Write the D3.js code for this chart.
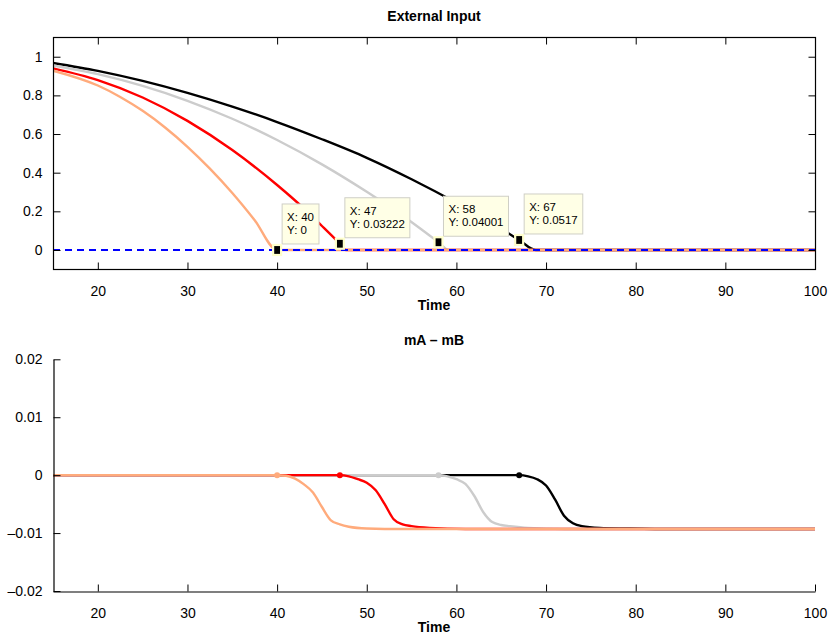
<!DOCTYPE html>
<html>
<head>
<meta charset="utf-8">
<script src="https://cdn.jsdelivr.net/npm/d3@7"></script>
<style>
  html, body { margin: 0; padding: 0; background: #fff; }
  svg { display: block; }
  text { font-family: "Liberation Sans", Arial, Helvetica, sans-serif; fill: #000; }
  .title, .xlabel { font-weight: bold; font-size: 14px; }
  .tick text { font-size: 14px; }
  .tip text { font-family: "Liberation Sans Narrow", "Arial Narrow", "Liberation Sans", sans-serif; font-size: 11.5px; }
</style>
</head>
<body>
<svg id="chart" width="830" height="637"></svg>
<script>
// ---- External input curves (value vs time) ----
const inputBlackT = [15, 20, 25, 30, 35, 40, 45, 50, 55, 60, 65, 67, 68.85, 100];
const inputBlack  = [0.968, 0.927, 0.875, 0.813, 0.742, 0.662, 0.573, 0.477, 0.366, 0.244, 0.11, 0.0517, 0, 0];

const inputGrayT = [15, 20, 25, 30, 35, 40, 45, 50, 54, 56, 58, 59.14, 100];
const inputGray  = [0.955, 0.91, 0.849, 0.772, 0.679, 0.569, 0.443, 0.301, 0.177, 0.11, 0.04001, 0, 0];

const inputRedT = [15, 20, 25, 30, 35, 40, 43, 45, 47, 47.68, 100];
const inputRed  = [0.94, 0.879, 0.789, 0.668, 0.517, 0.336, 0.214, 0.124, 0.03222, 0, 0];

const inputOrangeT = [15, 20, 22.5, 25, 27.5, 30, 32.5, 35, 37.5, 40, 100];
const inputOrange  = [0.928, 0.851, 0.792, 0.72, 0.634, 0.534, 0.421, 0.295, 0.154, 0, 0];

// reference line at zero
const zeroT = [15, 100];
const zeroV = [0, 0];

// data tips
const tipX = [40, 47, 58, 67];
const tipY = [0, 0.03222, 0.04001, 0.0517];
const tipXText = ["X: 40", "X: 47", "X: 58", "X: 67"];
const tipYText = ["Y: 0", "Y: 0.03222", "Y: 0.04001", "Y: 0.0517"];

// ---- mA - mB curves ----
const diffBlackT = [15, 67, 68, 69, 70, 71, 72, 73, 74, 76, 79, 84, 100];
const diffBlack  = [0, 0, -0.0002, -0.0007, -0.0018, -0.0042, -0.007, -0.0083, -0.0088, -0.0091, -0.0092, -0.0093, -0.0093];

const diffGrayT = [15, 58, 59, 60, 61, 62, 63, 64, 65, 66, 68, 72, 100];
const diffGray  = [0, 0, -0.0002, -0.0007, -0.0015, -0.0036, -0.0064, -0.0081, -0.0086, -0.0088, -0.0091, -0.0093, -0.0093];

const diffRedT = [15, 47, 48, 49, 50, 51, 52, 53, 54, 55, 57, 61, 100];
const diffRed  = [0, 0, -0.0002, -0.0007, -0.0013, -0.0026, -0.005, -0.0076, -0.0085, -0.0088, -0.0091, -0.0093, -0.0093];

const diffOrangeT = [15, 40, 41, 42, 43, 44, 45, 46, 47, 48, 50, 54, 100];
const diffOrange  = [0, 0, -0.0001, -0.0006, -0.0016, -0.003, -0.0055, -0.0078, -0.0085, -0.0089, -0.0092, -0.0093, -0.0093];

const switchT = [40, 47, 58, 67];
const switchV = [0, 0, 0, 0];

// ---- ticks ----
const xTicks = [20, 30, 40, 50, 60, 70, 80, 90, 100];
const xTickLabels = ["20", "30", "40", "50", "60", "70", "80", "90", "100"];
const topYTicks = [0, 0.2, 0.4, 0.6, 0.8, 1];
const topYTickLabels = ["0", "0.2", "0.4", "0.6", "0.8", "1"];
const botYTicks = [-0.02, -0.01, 0, 0.01, 0.02];
const botYTickLabels = ["\u20130.02", "\u20130.01", "0", "0.01", "0.02"];

const colors = { black: "#000000", gray: "#cccccc", red: "#ff0000", orange: "#ffab7c", blue: "#0000ff" };

const svg = d3.select("#chart");
const zip = (ts, vs) => ts.map((t, i) => [t, vs[i]]);

const X0 = 53, X1 = 815;

// ===================== Top panel =====================
const xTop = d3.scaleLinear().domain([15, 100]).range([X0, X1]);
const yTop = d3.scaleLinear().domain([-0.1, 1.1]).range([269.3, 37.4]);

const gTop = svg.append("g");
svg.append("clipPath").attr("id", "clipTop")
  .append("rect").attr("x", X0).attr("y", 37.4).attr("width", X1 - X0).attr("height", 269.3 - 37.4);

const lineTop = d3.line().x(d => xTop(d[0])).y(d => yTop(d[1])).curve(d3.curveMonotoneX);

const topSeries = [
  [zip(inputBlackT, inputBlack), colors.black],
  [zip(inputGrayT, inputGray), colors.gray],
  [zip(inputRedT, inputRed), colors.red],
  [zip(inputOrangeT, inputOrange), colors.orange]
];
const plotTop = gTop.append("g").attr("clip-path", "url(#clipTop)");
topSeries.forEach(([pts, c]) => {
  plotTop.append("path").attr("d", lineTop(pts)).attr("fill", "none")
    .attr("stroke", c).attr("stroke-width", 2.4).attr("stroke-linejoin", "round");
});
plotTop.append("path").attr("d", d3.line().x(d => xTop(d[0])).y(d => yTop(d[1]))(zip(zeroT, zeroV)))
  .attr("fill", "none").attr("stroke", colors.blue).attr("stroke-width", 1.8)
  .attr("stroke-dasharray", "7,5");

// axes: box with inward ticks
const tickLen = 7;
const axTopB = gTop.append("g").attr("transform", "translate(0,269.5)")
  .call(d3.axisBottom(xTop).tickValues(xTicks).tickFormat((d, i) => xTickLabels[i]).tickSizeInner(-tickLen).tickSizeOuter(0).tickPadding(tickLen + 10));
const axTopT = gTop.append("g").attr("transform", "translate(0,37.5)")
  .call(d3.axisTop(xTop).tickValues(xTicks).tickFormat("").tickSizeInner(-tickLen).tickSizeOuter(0));
const axTopL = gTop.append("g").attr("transform", "translate(" + (X0 + 0.5) + ",0)")
  .call(d3.axisLeft(yTop).tickValues(topYTicks).tickFormat((d, i) => topYTickLabels[i]).tickSizeInner(-tickLen).tickSizeOuter(0).tickPadding(tickLen + 4));
const axTopR = gTop.append("g").attr("transform", "translate(" + (X1 + 0.5) + ",0)")
  .call(d3.axisRight(yTop).tickValues(topYTicks).tickFormat("").tickSizeInner(-tickLen).tickSizeOuter(0));
[axTopB, axTopT, axTopL, axTopR].forEach(a => a.selectAll(".domain").remove());
gTop.append("rect").attr("x", X0 + 0.5).attr("y", 37.5).attr("width", X1 - X0).attr("height", 232)
  .attr("fill", "none").attr("stroke", "#000").attr("stroke-width", 1.2);

gTop.append("text").attr("class", "title").attr("x", 434).attr("y", 21).attr("text-anchor", "middle").text("External Input");
gTop.append("text").attr("class", "xlabel").attr("x", 434).attr("y", 309.5).attr("text-anchor", "middle").text("Time");

// data tips
const tips = gTop.append("g").attr("class", "tip");
tipX.forEach((tx, i) => {
  const px = xTop(tx), py = yTop(tipY[i]);
  const g = tips.append("g");
  const t1 = g.append("text").attr("x", px + 10).attr("y", py - 29).text(tipXText[i]);
  const t2 = g.append("text").attr("x", px + 10).attr("y", py - 16).text(tipYText[i]);
  const w = Math.max(t1.node().getComputedTextLength(), t2.node().getComputedTextLength()) + 10;
  g.insert("rect", "text").attr("x", px + 5).attr("y", py - 46).attr("width", w).attr("height", 40)
    .attr("fill", "#ffffe6").attr("stroke", "#cfcfc6").attr("stroke-width", 1);
  g.append("rect").attr("x", px - 4).attr("y", py - 5).attr("width", 8).attr("height", 10)
    .attr("fill", "#000").attr("stroke", "#ffffcc").attr("stroke-width", 2.2);
});

// ===================== Bottom panel =====================
const xBot = d3.scaleLinear().domain([15, 100]).range([X0, X1]);
const yBot = d3.scaleLinear().domain([-0.02, 0.02]).range([591, 359.3]);
const gBot = svg.append("g");
const lineBot = d3.line().x(d => xBot(d[0])).y(d => yBot(d[1])).curve(d3.curveMonotoneX);

const botSeries = [
  [zip(diffBlackT, diffBlack), colors.black],
  [zip(diffGrayT, diffGray), colors.gray],
  [zip(diffRedT, diffRed), colors.red],
  [zip(diffOrangeT, diffOrange), colors.orange]
];
botSeries.forEach(([pts, c]) => {
  gBot.append("path").attr("d", lineBot(pts)).attr("fill", "none")
    .attr("stroke", c).attr("stroke-width", 2.4).attr("stroke-linejoin", "round");
});
// switch-point dots
const dotColors = [colors.orange, colors.red, colors.gray, colors.black];
switchT.forEach((t, i) => {
  gBot.append("circle").attr("cx", xBot(t)).attr("cy", yBot(switchV[i])).attr("r", 3)
    .attr("fill", dotColors[i]);
});

const axBotB = gBot.append("g").attr("transform", "translate(0,591.5)")
  .call(d3.axisBottom(xBot).tickValues(xTicks).tickFormat((d, i) => xTickLabels[i]).tickSizeInner(-tickLen).tickSizeOuter(0).tickPadding(tickLen + 10));
const axBotL = gBot.append("g").attr("transform", "translate(" + (X0 + 0.5) + ",0)")
  .call(d3.axisLeft(yBot).tickValues(botYTicks).tickFormat((d, i) => botYTickLabels[i]).tickSizeInner(-tickLen).tickSizeOuter(0).tickPadding(tickLen + 4));
[axBotB, axBotL].forEach(a => a.select(".domain").attr("stroke-width", 1.2));
gBot.selectAll(".tick line").attr("stroke", "#000");

gBot.append("text").attr("class", "title").attr("x", 434).attr("y", 345).attr("text-anchor", "middle").text("mA \u2013 mB");
gBot.append("text").attr("class", "xlabel").attr("x", 434).attr("y", 632).attr("text-anchor", "middle").text("Time");

svg.selectAll("g[font-family]").attr("font-family", null).attr("font-size", null);
</script>
</body>
</html>
